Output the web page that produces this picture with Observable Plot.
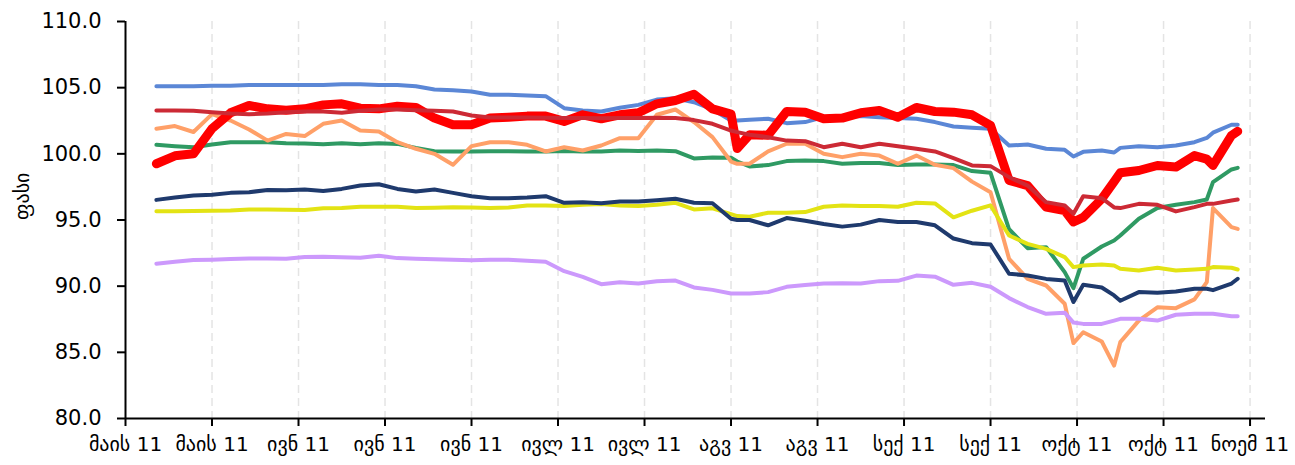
<!DOCTYPE html>
<html><head><meta charset="utf-8">
<script src="https://cdn.jsdelivr.net/npm/d3@7"></script>
<script src="https://cdn.jsdelivr.net/npm/@observablehq/plot@0.6"></script>
<style>
body{margin:0;background:#fff;}
#chart svg{font-family:"DejaVu Sans","Noto Sans",sans-serif;}
</style>
</head><body><div id="chart"></div>
<script>
// observation dates (2011)
const dates = ["2011-05-10","2011-05-13","2011-05-16","2011-05-19","2011-05-22","2011-05-25","2011-05-28","2011-05-31",
"2011-06-03","2011-06-06","2011-06-09","2011-06-12","2011-06-15","2011-06-18","2011-06-21","2011-06-24","2011-06-27","2011-06-30",
"2011-07-03","2011-07-06","2011-07-09","2011-07-12","2011-07-15","2011-07-18","2011-07-21","2011-07-24","2011-07-27","2011-07-30",
"2011-08-02","2011-08-05","2011-08-08","2011-08-11","2011-08-12","2011-08-14","2011-08-17","2011-08-20","2011-08-23","2011-08-26","2011-08-29",
"2011-09-01","2011-09-04","2011-09-07","2011-09-10","2011-09-13","2011-09-16","2011-09-19","2011-09-22","2011-09-25","2011-09-28",
"2011-10-01","2011-10-04","2011-10-05T10:00Z","2011-10-07","2011-10-10","2011-10-12","2011-10-13","2011-10-16","2011-10-19","2011-10-22",
"2011-10-25","2011-10-27","2011-10-28","2011-10-31","2011-11-01"];

const lightBlue = [105.1,105.1,105.1,105.15,105.15,105.2,105.2,105.2,105.2,105.2,105.25,105.25,105.2,105.2,105.1,104.86,104.8,104.71,
104.46,104.46,104.41,104.36,103.45,103.28,103.2,103.48,103.7,104.1,104.2,103.9,103.35,102.52,102.52,102.57,102.65,102.32,102.4,102.77,102.77,
102.85,102.77,102.7,102.65,102.4,102.07,101.97,101.9,100.63,100.7,100.38,100.3,99.8,100.15,100.25,100.1,100.45,100.58,100.5,100.63,
100.88,101.2,101.6,102.2,102.2];

const redBold = [99.25,99.85,100.0,101.9,103.1,103.65,103.4,103.3,103.4,103.7,103.78,103.45,103.4,103.6,103.5,102.7,102.2,102.2,
102.7,102.77,102.85,102.85,102.45,102.95,102.65,102.95,103.1,103.78,104.03,104.5,103.4,103.0,100.4,101.45,101.4,103.2,103.15,102.65,102.7,
103.1,103.28,102.77,103.5,103.2,103.15,102.95,102.15,97.99,97.6,95.97,95.72,94.85,95.2,96.6,97.9,98.57,98.74,99.12,99.0,
99.87,99.6,99.12,101.39,101.7];

const darkRed = [103.28,103.27,103.25,103.15,103.05,103.0,103.05,103.15,103.2,103.2,103.1,103.25,103.35,103.35,103.3,103.25,103.2,102.9,
102.75,102.75,102.75,102.72,102.7,102.7,102.68,102.7,102.7,102.72,102.7,102.55,102.27,101.76,101.64,101.44,101.26,101.0,100.96,100.5,100.76,
100.5,100.76,100.58,100.38,100.18,99.67,99.12,99.07,98.24,97.6,96.35,96.1,95.47,96.8,96.65,95.95,95.9,96.22,96.15,95.65,
95.97,96.22,96.22,96.47,96.55];

const orange = [101.89,102.1,101.65,103.0,102.52,101.84,101.0,101.5,101.34,102.27,102.52,101.76,101.69,100.88,100.38,100.0,99.17,100.58,
100.88,100.88,100.68,100.18,100.5,100.25,100.63,101.18,101.18,102.95,103.35,102.4,101.26,99.42,99.25,99.25,100.18,100.76,100.76,100.0,99.75,
100.0,99.87,99.25,99.87,99.17,98.92,97.9,97.1,92.07,90.55,90.05,88.67,85.7,86.52,85.82,84.0,85.77,87.4,88.4,88.34,
89.0,90.3,95.9,94.46,94.33];

const green = [100.68,100.58,100.5,100.7,100.88,100.88,100.88,100.8,100.78,100.72,100.8,100.72,100.8,100.75,100.45,100.2,100.18,100.18,
100.2,100.2,100.18,100.18,100.22,100.18,100.18,100.25,100.22,100.25,100.2,99.65,99.72,99.7,99.42,99.05,99.15,99.45,99.5,99.45,99.25,
99.3,99.3,99.15,99.2,99.2,99.15,98.7,98.57,94.3,92.87,92.95,91.06,89.85,92.07,93.0,93.45,93.83,95.09,95.9,96.15,
96.35,96.55,97.86,98.82,98.94];

const navy = [96.52,96.7,96.85,96.9,97.05,97.1,97.27,97.25,97.3,97.2,97.35,97.6,97.7,97.35,97.15,97.3,97.05,96.8,
96.65,96.65,96.7,96.8,96.3,96.35,96.27,96.4,96.4,96.5,96.6,96.3,96.27,95.1,95.0,95.0,94.6,95.15,94.95,94.7,94.5,
94.65,95.0,94.85,94.85,94.6,93.6,93.25,93.15,90.94,90.81,90.55,90.43,88.8,90.1,89.9,89.3,88.9,89.55,89.5,89.6,
89.8,89.8,89.7,90.2,90.56];

const yellow = [95.67,95.67,95.68,95.7,95.72,95.8,95.8,95.78,95.75,95.88,95.9,96.0,96.0,96.0,95.9,95.92,95.97,95.95,
95.9,95.95,96.1,96.1,96.05,96.15,96.2,96.1,96.05,96.15,96.3,95.8,95.88,95.45,95.3,95.25,95.55,95.55,95.6,96.0,96.1,
96.05,96.05,96.0,96.3,96.25,95.2,95.7,96.1,93.83,93.2,92.82,92.2,91.44,91.56,91.64,91.56,91.31,91.19,91.39,91.19,
91.26,91.31,91.44,91.39,91.26];

const lavender = [91.7,91.85,91.98,92.0,92.05,92.1,92.1,92.07,92.2,92.22,92.18,92.15,92.3,92.12,92.07,92.03,92.0,91.95,
92.0,92.0,91.92,91.85,91.13,90.7,90.15,90.3,90.2,90.37,90.42,89.9,89.72,89.45,89.45,89.45,89.55,89.95,90.08,90.2,90.22,
90.2,90.38,90.4,90.8,90.72,90.1,90.25,89.95,89.1,88.42,87.91,88.0,87.25,87.15,87.15,87.4,87.53,87.53,87.4,87.84,
87.91,87.91,87.91,87.73,87.73];

// x axis ticks and labels
const tickDates = ["2011-05-05","2011-05-19","2011-06-02","2011-06-16","2011-06-30","2011-07-14","2011-07-28",
"2011-08-11","2011-08-25","2011-09-08","2011-09-22","2011-10-06","2011-10-20","2011-11-03"];
const tickLabels = ["მაის 11","მაის 11","ივნ 11","ივნ 11","ივნ 11","ივლ 11","ივლ 11",
"აგვ 11","აგვ 11","სექ 11","სექ 11","ოქტ 11","ოქტ 11","ნოემ 11"];
const yTicks = [80,85,90,95,100,105,110];
const yLabel = "ფასი";

// draw order and styles
const seriesList = [
  {key:"lightBlue", values: lightBlue, color:"#5b87d6", width:4},
  {key:"green", values: green, color:"#2f9a63", width:4},
  {key:"orange", values: orange, color:"#ffa068", width:4},
  {key:"yellow", values: yellow, color:"#e3e314", width:4},
  {key:"navy", values: navy, color:"#1f3a6d", width:4},
  {key:"lavender", values: lavender, color:"#cc99fc", width:4},
  {key:"redBold", values: redBold, color:"#ff0000", width:9},
  {key:"darkRed", values: darkRed, color:"#cc2a35", width:4}
];

const parse = s => new Date(s);
const xTicks = tickDates.map(parse);
const labelMap = new Map(xTicks.map((d,i)=>[+d, tickLabels[i]]));
const xDomain = [parse("2011-05-05"), parse("2011-11-05T12:00Z")];

const marks = [
  Plot.ruleX(xTicks.slice(1), {stroke:"#e4e4e4", strokeWidth:1.5, strokeDasharray:"8,5"}),
  ...seriesList.map(s => Plot.line(s.values.map((v,i)=>({date: parse(dates[i]), value: v})),
      {x:"date", y:"value", stroke: s.color, strokeWidth: s.width, strokeLinejoin:"round", strokeLinecap:"round"})),
  Plot.ruleY([80], {stroke:"#000", strokeWidth:2}),
  Plot.ruleX([xDomain[0]], {stroke:"#000", strokeWidth:2}),
  Plot.axisY({ticks: yTicks, tickFormat: d => d.toFixed(1), tickSize: 8, tickPadding: 16, fontSize: 21, label: null, strokeWidth: 2}),
  Plot.axisX({ticks: xTicks, tickFormat: d => labelMap.get(+d), tickSize: 8, tickPadding: 10, fontSize: 20, label: null, strokeWidth: 2}),
  Plot.text([yLabel], {frameAnchor:"left", rotate:-90, dx:-103, fontSize:20, fill:"#000"})
];

const chart = Plot.plot({
  width: 1295, height: 465,
  marginLeft: 125, marginRight: 30, marginTop: 21, marginBottom: 47,
  x: {type:"utc", domain: xDomain},
  y: {domain:[80,110]},
  style: {fontFamily:"'DejaVu Sans','Noto Sans',sans-serif", fontSize:"20px", color:"#000", background:"#fff"},
  marks
});
document.getElementById("chart").appendChild(chart);
</script>
</body></html>
